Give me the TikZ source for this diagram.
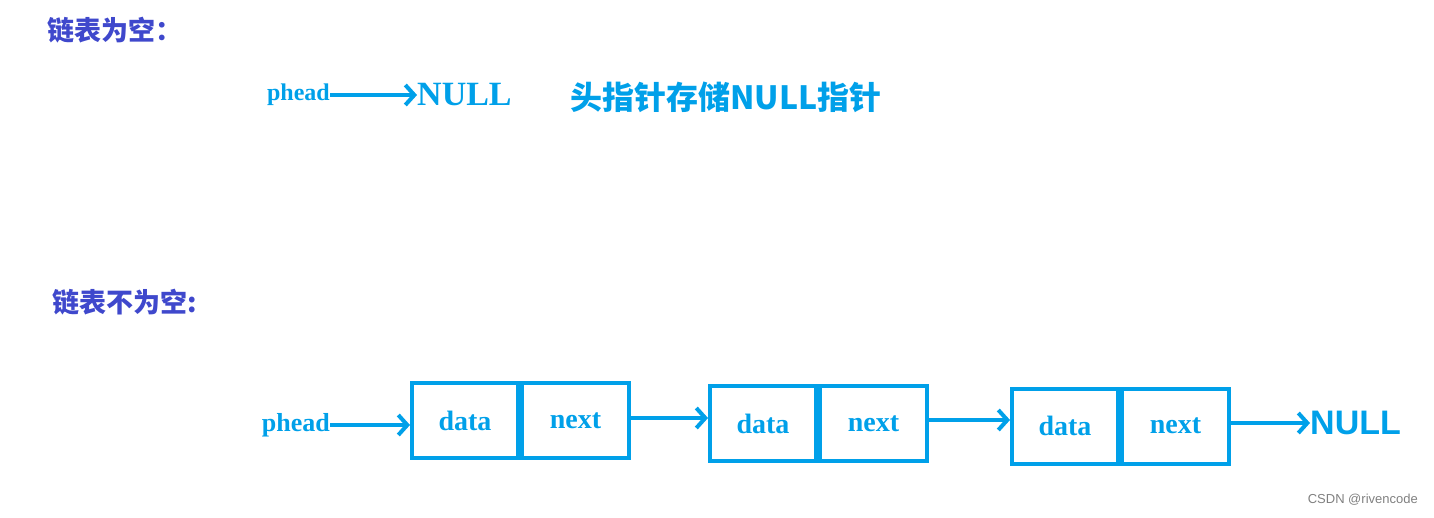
\documentclass[tikz,border=0pt]{standalone}
\usepackage{fontspec}
\setmainfont{Liberation Serif}
\newfontfamily\cjk{Noto Sans CJK SC}
\newfontfamily\sansf{Liberation Sans}
\usetikzlibrary{arrows.meta}
\definecolor{lb}{RGB}{0,160,233}
\definecolor{pu}{RGB}{63,72,204}
\tikzset{
  x=1pt,y=-1pt,
  ptr/.style={draw=lb,line width=4pt,-{Straight Barb[length=9pt,width=20pt,line width=4pt]}},
  cell/.style={draw=lb,line width=4pt,minimum height=75pt,inner sep=0pt,font=\bfseries\fontsize{28}{30}\selectfont,text=lb},
  ttl/.style={anchor=west,text=pu,font=\cjk\bfseries\fontsize{27}{30}\selectfont,inner sep=0pt},
  ph/.style={text=lb,font=\bfseries\fontsize{26}{28}\selectfont,inner sep=0pt}
}
\begin{document}
\begin{tikzpicture}
\useasboundingbox (0,0) rectangle (1434,517);
\node[ttl] (t1) at (47,30) {链表为空：};
\node[ph,anchor=east] (p1) at (330,95) {\fontsize{24}{26}\selectfont phead};
\node[anchor=west,inner sep=0pt,text=lb,font=\bfseries\fontsize{34}{36}\selectfont] (n1) at (417,95) {NULL};
\draw[ptr] (p1.east) -- (n1.west);
\node[anchor=west,inner sep=0pt,text=lb,font=\cjk\bfseries\fontsize{32}{34}\selectfont] (d1) at (570,97) {头指针存储NULL指针};
\node[ttl] (t2) at (52,302) {链表不为空:};
\node[ph,anchor=east] (p2) at (330,425) {phead};
\foreach \i/\x/\y in {1/410/420.5,2/708/423.5,3/1010/426}{
  \node[cell,minimum width=106pt,anchor=west] (a\i) at (\x,\y) {data};
  \node[cell,minimum width=107pt,anchor=west] (b\i) at (a\i.east) {next};
}
\node[anchor=west,inner sep=0pt,text=lb,font=\sansf\bfseries\fontsize{34}{36}\selectfont] (n2) at (1310,423) {NULL};
\draw[ptr] (p2.east) -- (a1.west|-p2.east);
\draw[ptr] (b1.east|-0,418) -- (a2.west|-0,418);
\draw[ptr] (b2.east|-0,420) -- (a3.west|-0,420);
\draw[ptr] (b3.east|-0,423) -- (n2.west);
\node[anchor=east,inner sep=0pt,text=gray,font=\sansf\fontsize{13}{14}\selectfont] (w) at (1418,500) {CSDN @rivencode};
\end{tikzpicture}
\end{document}
